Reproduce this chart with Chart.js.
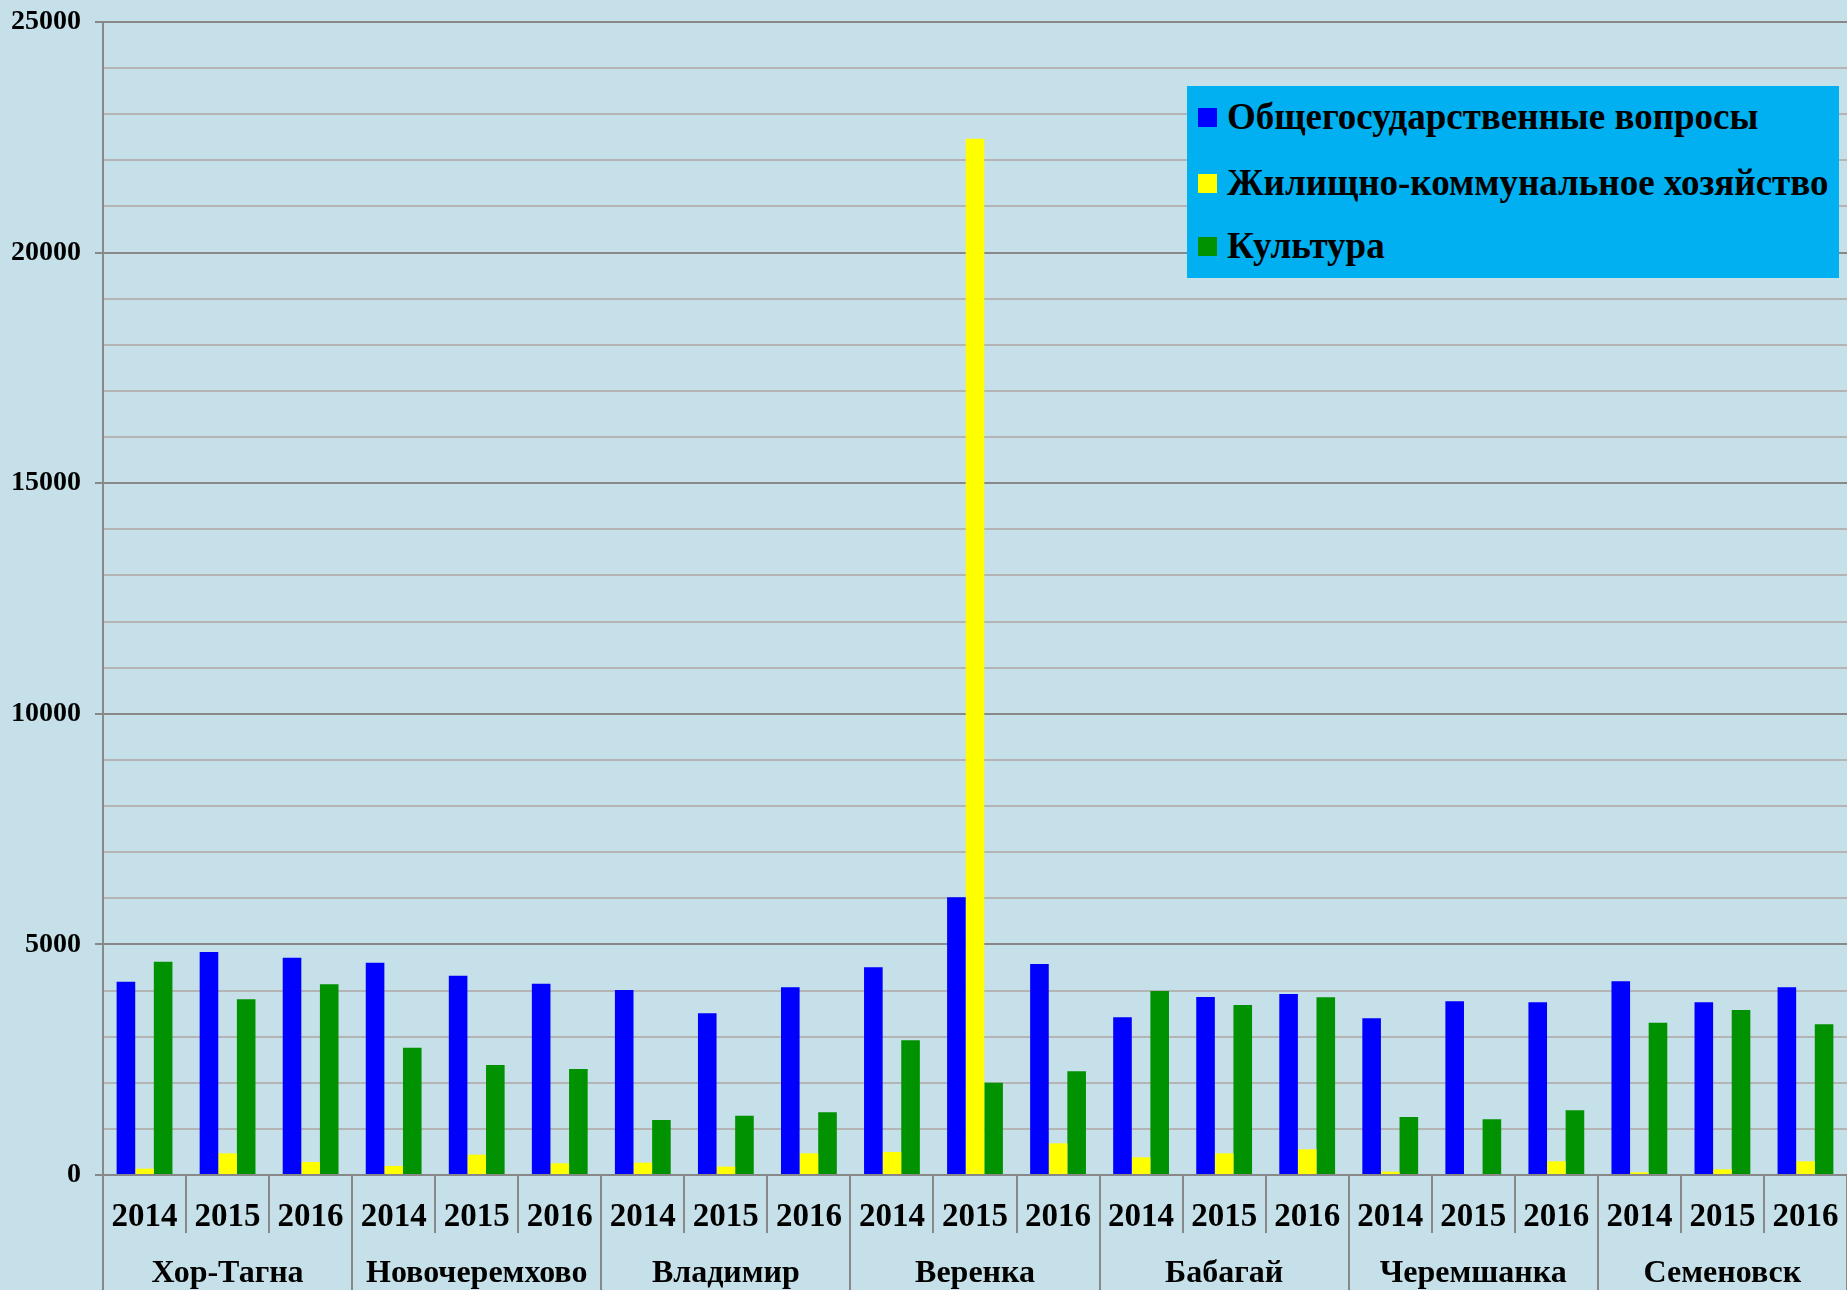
<!DOCTYPE html>
<html>
<head>
<meta charset="utf-8">
<script src="https://cdn.jsdelivr.net/npm/chart.js@4.4.1/dist/chart.umd.min.js"></script>
<style>
  html, body { margin: 0; padding: 0; background: #C5E0E8; }
  #wrap { position: relative; width: 1847px; height: 1290px; overflow: hidden; }
  #legend {
    position: absolute; left: 1187px; top: 86px; width: 652px; height: 192px;
    background: #00B0F0; box-sizing: border-box;
    font-family: 'Liberation Serif', 'Times New Roman', serif; font-weight: bold;
    font-size: 37px; color: #000;
  }
  .item { position: absolute; left: 11px; height: 40px; line-height: 40px; white-space: nowrap; }
  .sw { display: inline-block; width: 19px; height: 19px; margin-right: 10px; vertical-align: middle; position: relative; top: -3px; }
</style>
</head>
<body>
<div id="wrap">
  <canvas id="c" width="1847" height="1290"></canvas>
  <div id="legend"></div>
</div>
<script>
const years = ['2014','2015','2016','2014','2015','2016','2014','2015','2016','2014','2015','2016','2014','2015','2016','2014','2015','2016','2014','2015','2016'];
const villages = ['Хор-Тагна','Новочеремхово','Владимир','Веренка','Бабагай','Черемшанка','Семеновск'];
const seriesNames = ['Общегосударственные вопросы','Жилищно-коммунальное хозяйство','Культура'];
const general = [4192,4835,4712, 4604,4322,4149, 4011,3505,4069, 4503,6022,4575, 3419,3860,3925, 3397,3766,3744, 4199,3744,4069];
const housing = [137,470,282, 195,441,253, 267,181,470, 499,22470,687, 383,470,557, 72,22,296, 58,123,296];
const culture = [4626,3809,4134, 2761,2385,2298, 1193,1287,1359, 2920,2002,2248, 3990,3686,3852, 1258,1207,1402, 3303,3578,3267];
const yTicks = [0,5000,10000,15000,20000,25000];

const colors = ['#0000FF','#FFFF00','#009200'];
const FONT = "'Liberation Serif', 'Times New Roman', serif";
const MAJOR = '#888888', MINOR = '#B4B4B4';

// legend (HTML)
const lg = document.getElementById('legend');
const centers = [117, 183, 246];
seriesNames.forEach((n, i) => {
  const d = document.createElement('div');
  d.className = 'item';
  d.style.top = (centers[i] - 86 - 20) + 'px';
  d.innerHTML = '<span class="sw" style="background:' + colors[i] + '"></span>' + n;
  lg.appendChild(d);
});

new Chart(document.getElementById('c'), {
  type: 'bar',
  data: {
    labels: years,
    datasets: [
      { label: seriesNames[0], data: general, backgroundColor: colors[0] },
      { label: seriesNames[1], data: housing, backgroundColor: colors[1] },
      { label: seriesNames[2], data: culture, backgroundColor: colors[2] }
    ]
  },
  options: {
    responsive: false,
    animation: false,
    devicePixelRatio: 1,
    layout: { padding: { top: 22, right: 0, left: 0, bottom: 0 } },
    datasets: { bar: { barPercentage: 1, categoryPercentage: 0.672 } },
    plugins: { legend: { display: false }, tooltip: { enabled: false } },
    scales: {
      x: {
        type: 'category',
        position: 'bottom',
        weight: 0,
        grid: { display: true, drawOnChartArea: false, offset: true, tickLength: 58, color: MAJOR, lineWidth: 2 },
        border: { display: true, color: MAJOR, width: 2 },
        ticks: { font: { family: FONT, weight: 'bold', size: 33 }, color: '#000', padding: -35, maxRotation: 0, autoSkip: false },
        afterFit: s => { s.height = 58; }
      },
      x2: {
        type: 'category',
        position: 'bottom',
        weight: 1,
        labels: villages,
        offset: true,
        grid: { display: true, drawOnChartArea: false, offset: true, tickLength: 57, color: MAJOR, lineWidth: 2 },
        border: { display: false },
        ticks: { font: { family: FONT, weight: 'bold', size: 32 }, color: '#000', padding: -35, maxRotation: 0, autoSkip: false },
        afterFit: s => { s.height = 57; }
      },
      y: {
        min: 0, max: 25000,
        ticks: {
          stepSize: 1000,
          font: { family: FONT, weight: 'bold', size: 28 }, color: '#000', padding: 14,
          callback: v => yTicks.includes(v) ? String(v) : ''
        },
        grid: {
          color: c => (c.tick && c.tick.value % 5000 === 0) ? MAJOR : MINOR,
          tickColor: c => (c.tick && c.tick.value % 5000 === 0) ? MAJOR : 'rgba(0,0,0,0)',
          lineWidth: 2, tickLength: 8
        },
        border: { display: true, color: MAJOR, width: 2 },
        afterFit: s => { s.width = 103; s.paddingTop = 0; s.paddingBottom = 0; }
      }
    }
  }
});
</script>
</body>
</html>
